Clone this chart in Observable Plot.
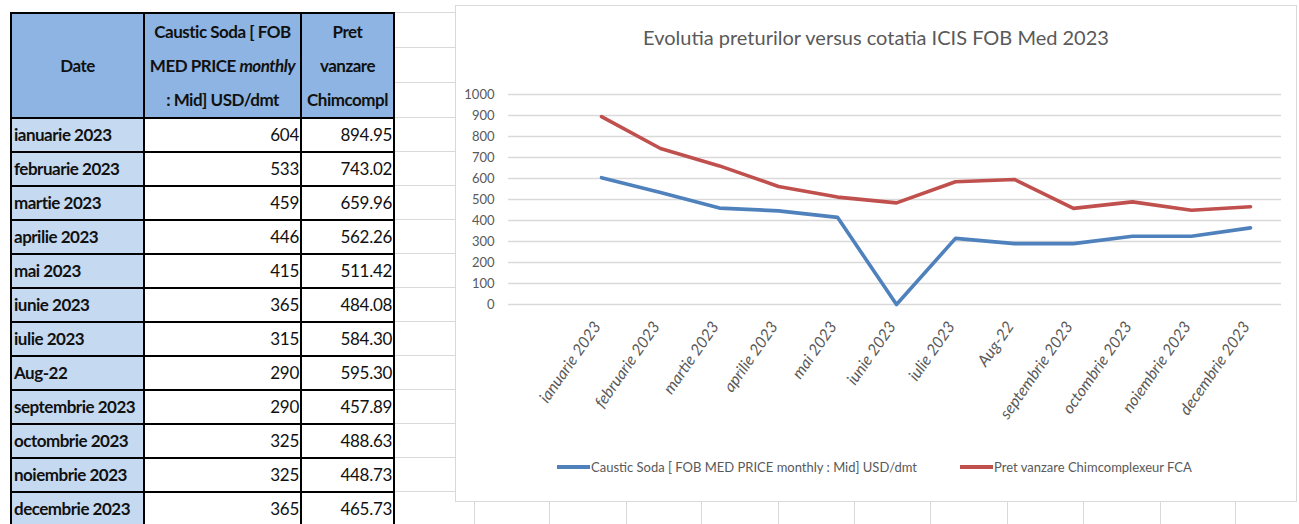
<!DOCTYPE html>
<html>
<head>
<meta charset="utf-8">
<script src="https://cdn.jsdelivr.net/npm/d3@7"></script>
<script src="https://cdn.jsdelivr.net/npm/@observablehq/plot@0.6"></script>
<style>
  html, body { margin: 0; padding: 0; background: #fff; }
  body { width: 1299px; height: 524px; position: relative; overflow: hidden;
         font-family: Lato, "Open Sans", sans-serif; }
  .xlgrid { position: absolute; background: #d9d9d9; }
  table.sheet { position: absolute; left: 10px; top: 12px; width: 383px; border-collapse: collapse; table-layout: fixed; }
  table.sheet td, table.sheet th { border: 2px solid #000; padding: 0 3px; overflow: hidden; white-space: nowrap;
         font-size: 17px; color: #111; letter-spacing: -0.5px; }
  table.sheet th { background: #8DB4E2; font-weight: bold; text-align: center; line-height: 34px; height: 103px; padding: 0 1px; }
  table.sheet td { height: 32px; line-height: 32px; }
  table.sheet td.d { background: #C5D9F1; font-weight: bold; text-align: left; padding-left: 2px; }
  table.sheet td.v { background: #fff; text-align: right; padding-right: 1px; letter-spacing: -0.3px; }
  #chartbox { position: absolute; left: 455px; top: 5px; width: 842px; height: 497px; box-sizing: border-box;
              border: 1px solid #d9d9d9; background: #fff; }
  #title { position: absolute; left: 0; right: 0; top: 19px; text-align: center; font-size: 20px; color: #595959; }
  #plot { position: absolute; left: 0; top: 74px; }
  #legend { position: absolute; left: 0; right: 0; top: 453px; height: 20px; color: #595959; font-size: 13px; }
  .lg { position: absolute; top: 0; display: flex; align-items: center; white-space: nowrap; }
  .sw { width: 33px; height: 4px; margin-right: 1px; }
</style>
</head>
<body>
<div id="grid"></div>
<table class="sheet" id="sheet"></table>
<div id="chartbox">
  <div id="title"></div>
  <div id="plot"></div>
  <div id="legend"></div>
</div>
<script>
// ---- data ----
const months = ["ianuarie 2023","februarie 2023","martie 2023","aprilie 2023","mai 2023","iunie 2023",
  "iulie 2023","Aug-22","septembrie 2023","octombrie 2023","noiembrie 2023","decembrie 2023"];
const tableCaustic = [604, 533, 459, 446, 415, 365, 315, 290, 290, 325, 325, 365];
const tablePret = [894.95, 743.02, 659.96, 562.26, 511.42, 484.08, 584.30, 595.30, 457.89, 488.63, 448.73, 465.73];
const chartCaustic = [604, 533, 459, 446, 415, 0, 315, 290, 290, 325, 325, 365];
const chartPret = [894.95, 743.02, 659.96, 562.26, 511.42, 484.08, 584.30, 595.30, 457.89, 488.63, 448.73, 465.73];
const yTicks = [0, 100, 200, 300, 400, 500, 600, 700, 800, 900, 1000];
const headers = ["Date", "Caustic Soda [ FOB<br>MED PRICE <i>monthly</i><br>: Mid] USD/dmt", "Pret<br>vanzare<br>Chimcompl"];
const seriesNames = ["Caustic Soda [ FOB MED PRICE monthly : Mid] USD/dmt", "Pret vanzare Chimcomplexeur FCA"];
const seriesColors = ["#4F81BD", "#C0504D"];
const chartTitle = "Evolutia preturilor versus cotatia ICIS FOB Med 2023";

// ---- excel sheet background grid ----
const grid = document.getElementById("grid");
[12, 47, 82, 117, 151, 185, 219, 253, 287, 321, 355, 389, 423, 457, 491].forEach(y => {
  const d = document.createElement("div"); d.className = "xlgrid";
  Object.assign(d.style, {left: "395px", top: y + "px", width: "60px", height: "1px"}); grid.appendChild(d);
});
[474, 549, 626, 701, 778, 854, 930, 1007, 1083, 1160, 1235].forEach(x => {
  const d = document.createElement("div"); d.className = "xlgrid";
  Object.assign(d.style, {left: x + "px", top: "502px", width: "1px", height: "22px"}); grid.appendChild(d);
});

// ---- table ----
const sheet = document.getElementById("sheet");
const colW = [133, 157, 93];
let html = "<colgroup>" + colW.map(w => `<col style="width:${w}px">`).join("") + "</colgroup>";
html += "<tr>" + headers.map(h => `<th>${h}</th>`).join("") + "</tr>";
months.forEach((m, i) => {
  html += `<tr><td class="d">${m}</td><td class="v">${tableCaustic[i]}</td><td class="v">${tablePret[i].toFixed(2)}</td></tr>`;
});
sheet.innerHTML = html;

// ---- chart ----
document.getElementById("title").textContent = chartTitle;
const rows = [];
months.forEach((m, i) => {
  rows.push({month: m, value: chartCaustic[i], series: seriesNames[0]});
  rows.push({month: m, value: chartPret[i], series: seriesNames[1]});
});

const chart = Plot.plot({
  width: 840, height: 360,
  marginLeft: 52, marginRight: 15, marginTop: 14, marginBottom: 136,
  style: {fontFamily: "Lato, 'Open Sans', sans-serif", color: "#595959", background: "transparent"},
  x: {type: "point", domain: months, padding: 0, insetLeft: 90, insetRight: 29, label: null},
  y: {domain: [0, 1000], ticks: yTicks, label: null},
  color: {domain: seriesNames, range: seriesColors},
  marks: [
    Plot.gridY(yTicks, {stroke: "#d9d9d9", strokeOpacity: 1, strokeWidth: 1.5}),
    Plot.axisY(yTicks, {tickSize: 0, tickPadding: 14, fontSize: 13, fill: "#595959", tickFormat: d => String(d), label: null}),
    Plot.axisX({tickSize: 0, tickPadding: 19, tickRotate: -55, dx: -4, fontSize: 16, fontStyle: "italic", fill: "#595959", label: null}),
    Plot.line(rows, {x: "month", y: "value", z: "series", stroke: "series", strokeWidth: 3.6, strokeLinejoin: "round", strokeLinecap: "round"})
  ]
});
document.getElementById("plot").appendChild(chart);

// ---- legend ----
const legend = document.getElementById("legend");
const lgLeft = [101, 504];
seriesNames.forEach((s, i) => {
  const item = document.createElement("div"); item.className = "lg";
  item.style.left = lgLeft[i] + "px";
  item.innerHTML = `<div class="sw" style="background:${seriesColors[i]}"></div><span>${s}</span>`;
  legend.appendChild(item);
});
</script>
</body>
</html>
